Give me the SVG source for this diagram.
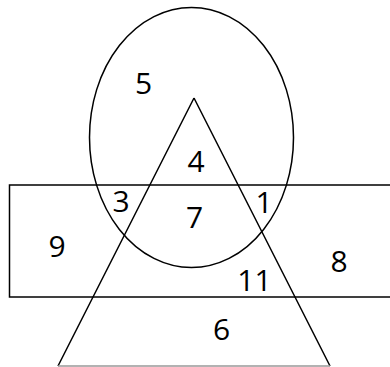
<svg xmlns="http://www.w3.org/2000/svg" width="390" height="367" viewBox="0 0 390 367">
<style>
.s{fill:none;stroke:#000;stroke-width:1.5}
.t{font-family:"Open Sans","Liberation Sans",sans-serif;font-size:30px;fill:#000;text-anchor:middle}
</style>
<rect width="390" height="367" fill="#fff"/>
<g id="connectors"></g>
<g id="rectangle"><rect class="s" x="9.5" y="185" width="400" height="112"/></g>
<g id="ellipse"><ellipse class="s" cx="191.5" cy="137.5" rx="102" ry="130"/></g>
<g id="triangle"><path class="s" d="M194 98 L58 366 M194 98 L330 366"/><line x1="58" y1="366" x2="330" y2="366" stroke="#999" stroke-width="1.5"/></g>
<g id="labels">
<text class="t" x="143.5" y="94">5</text>
<text class="t" x="196" y="172">4</text>
<text class="t" x="121" y="212">3</text>
<text class="t" x="194.5" y="228">7</text>
<text class="t" x="264" y="213">1</text>
<text class="t" x="57" y="257">9</text>
<text class="t" x="339" y="272">8</text>
<text class="t" x="254.5" y="291">11</text>
<text class="t" x="221.5" y="340">6</text>
</g>
</svg>
